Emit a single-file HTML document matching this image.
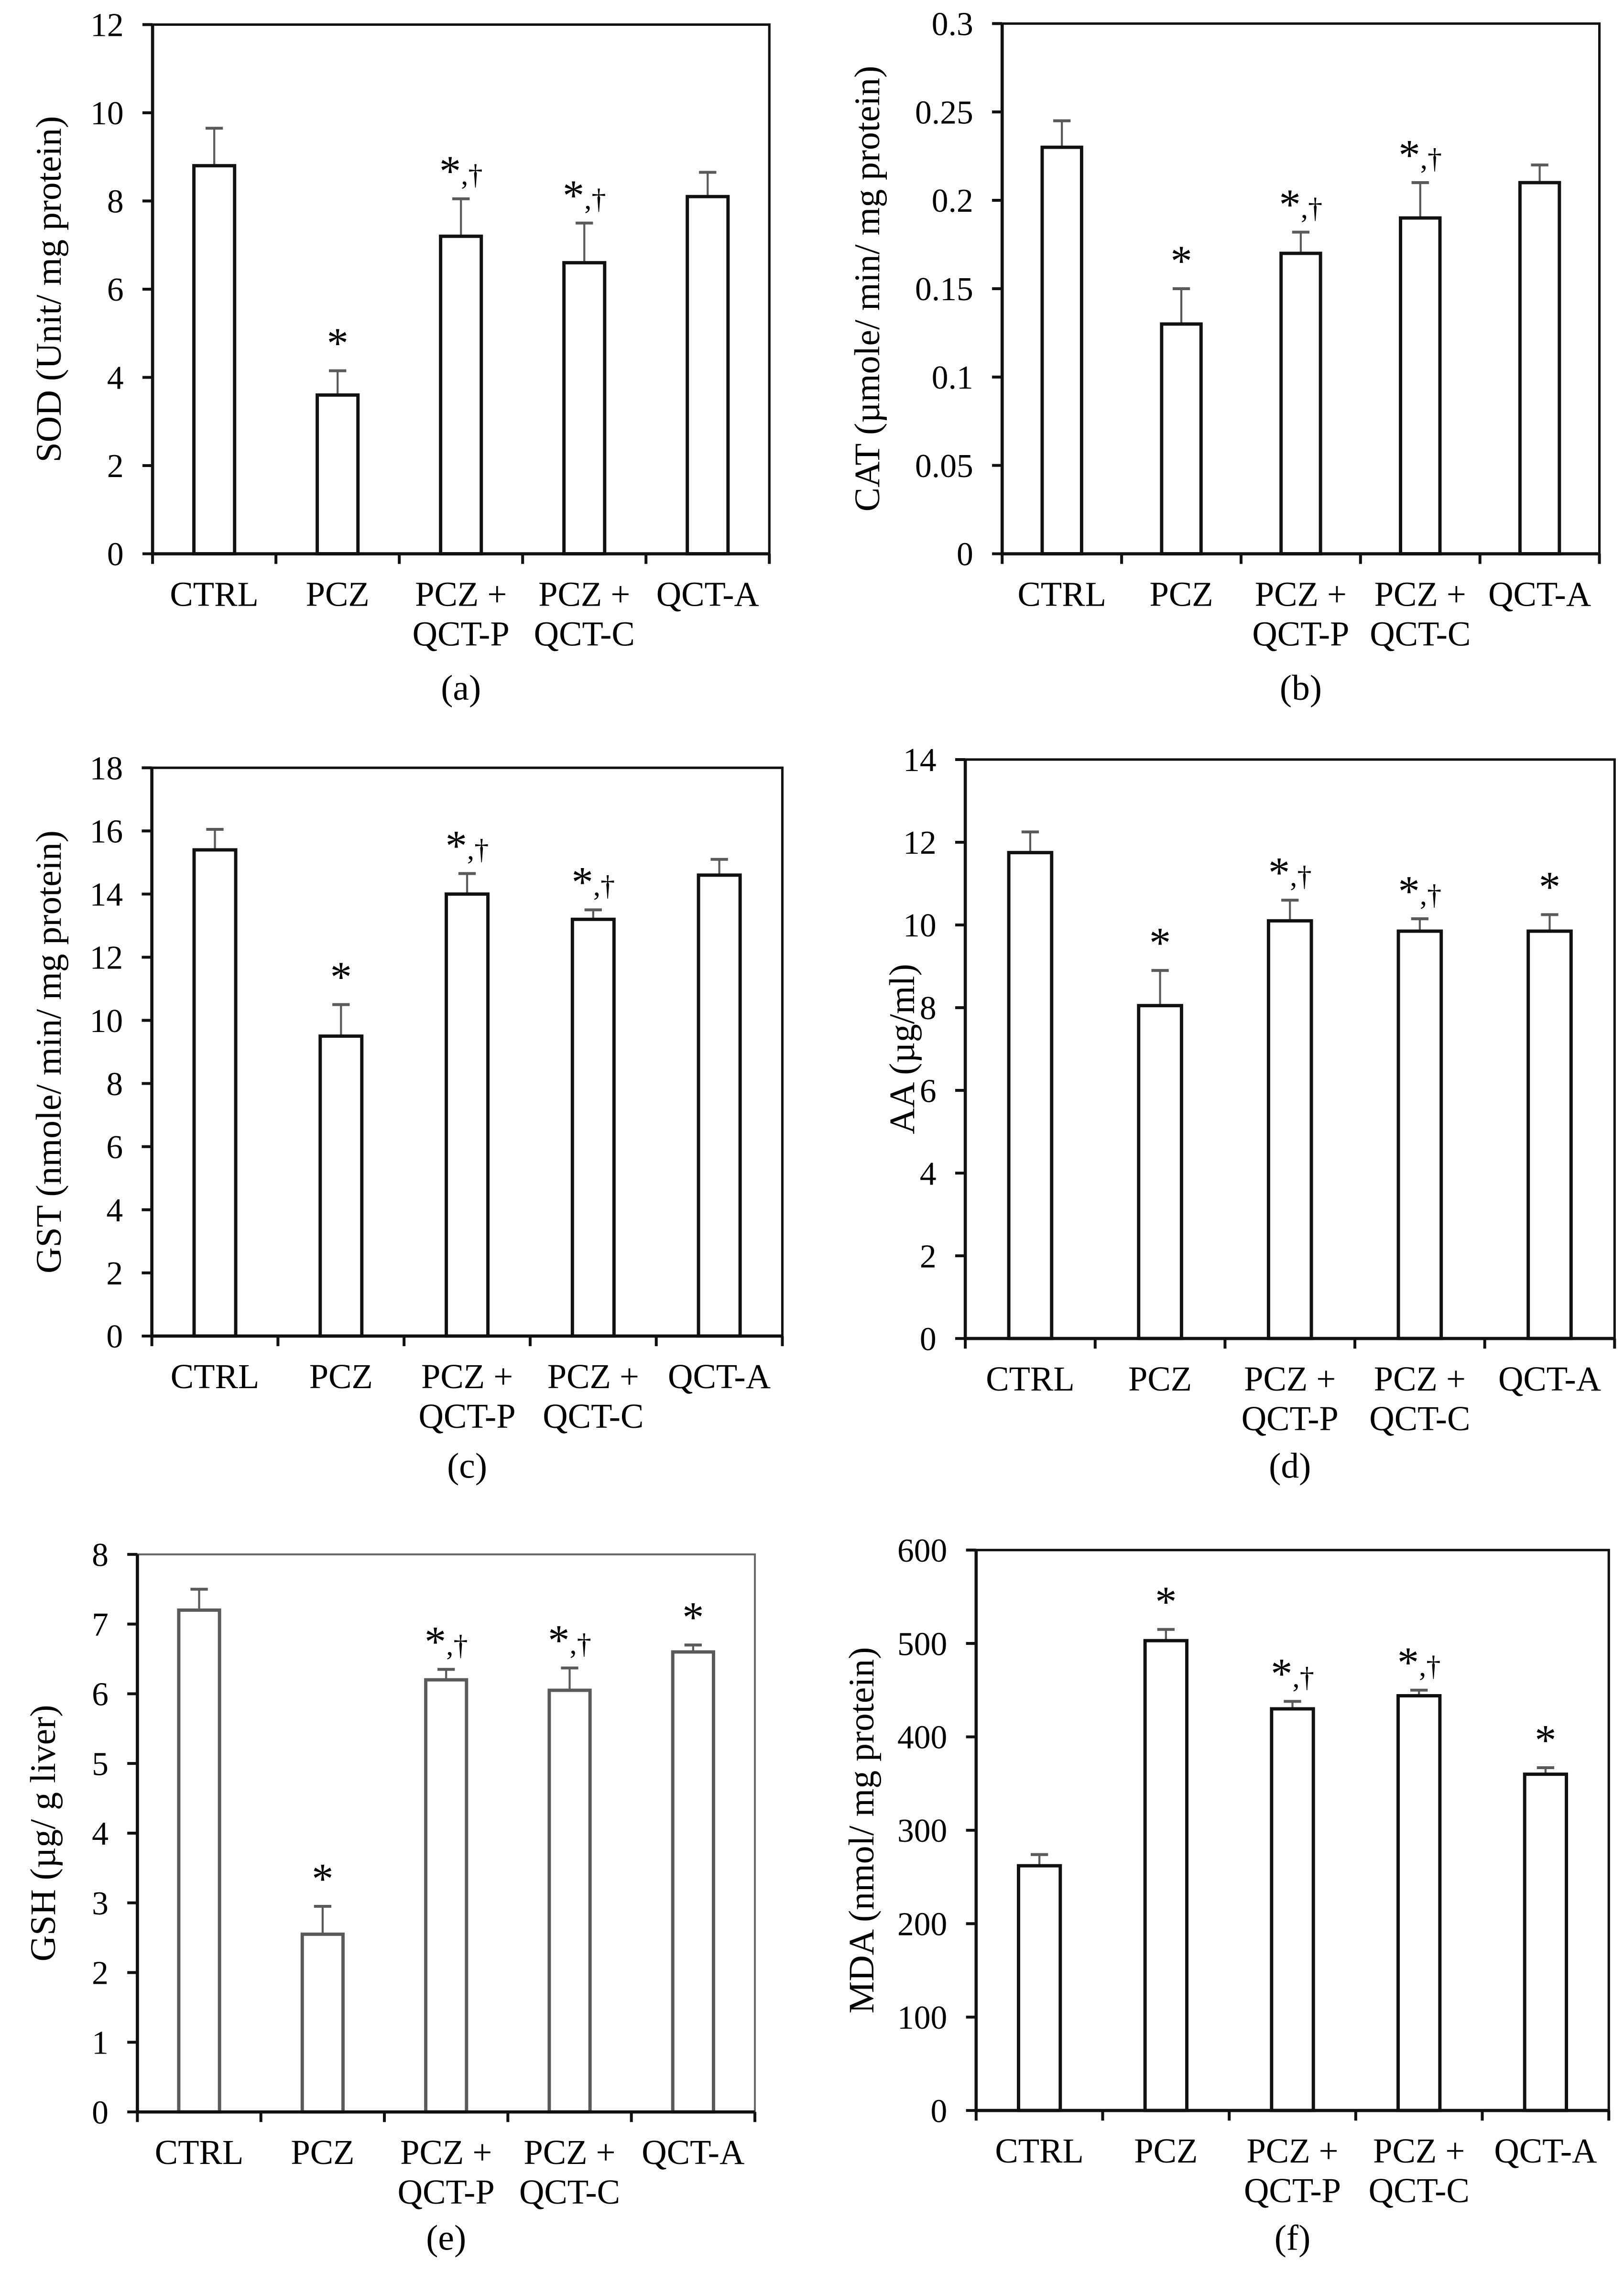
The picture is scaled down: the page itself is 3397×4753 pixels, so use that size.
<!DOCTYPE html>
<html><head><meta charset="utf-8"><style>
html,body{margin:0;padding:0;background:#fff}
svg{display:block}
text{font-family:"Liberation Serif",serif;fill:#000}
</style></head><body>
<svg id="fig" width="3397" height="4753" viewBox="0 0 1123 1571.3" xmlns="http://www.w3.org/2000/svg"></svg>
<script>
const categories = [["CTRL"],["PCZ"],["PCZ +","QCT-P"],["PCZ +","QCT-C"],["QCT-A"]];
const sodValues = [8.8, 3.6, 7.2, 6.6, 8.1];
const sodErrors = [0.85, 0.55, 0.85, 0.9, 0.55];
const catValues = [0.23, 0.13, 0.17, 0.19, 0.21];
const catErrors = [0.015, 0.02, 0.012, 0.02, 0.01];
const gstValues = [15.4, 9.5, 14.0, 13.2, 14.6];
const gstErrors = [0.65, 1.0, 0.65, 0.3, 0.5];
const aaValues = [11.75, 8.05, 10.1, 9.85, 9.85];
const aaErrors = [0.5, 0.85, 0.5, 0.3, 0.4];
const gshValues = [7.2, 2.55, 6.2, 6.05, 6.6];
const gshErrors = [0.3, 0.4, 0.15, 0.32, 0.1];
const mdaValues = [262, 503, 430, 444, 360];
const mdaErrors = [12, 12, 8, 6, 7];
const sodTicks = ["0","2","4","6","8","10","12"];
const catTicks = ["0","0.05","0.1","0.15","0.2","0.25","0.3"];
const gstTicks = ["0","2","4","6","8","10","12","14","16","18"];
const aaTicks = ["0","2","4","6","8","10","12","14"];
const gshTicks = ["0","1","2","3","4","5","6","7","8"];
const mdaTicks = ["0","100","200","300","400","500","600"];
const annotA = ["","*","*,†","*,†",""];
const annotB = ["","*","*,†","*,†",""];
const annotC = ["","*","*,†","*,†",""];
const annotD = ["","*","*,†","*,†","*"];
const annotE = ["","*","*,†","*,†","*"];
const annotF = ["","*","*,†","*,†","*"];

const NS="http://www.w3.org/2000/svg";
const svg=document.getElementById('fig');
function mk(tag,attrs,parent){const e=document.createElementNS(NS,tag);for(const k in attrs)e.setAttribute(k,attrs[k]);(parent||svg).appendChild(e);return e;}

function panel(id,box,vals,errs,ticks,annot,ylabel,ylx,capY,cap,gray){
  const g=mk('g',{});
  
  
  const L=box[0],T=box[1],R=box[2],B=box[3];
  const ymax=parseFloat(ticks[ticks.length-1]);
  const y=v=>B-(v/ymax)*(B-T);
  const cw=(R-L)/vals.length;
  const x=i=>L+cw*(i+0.5);
  const col=gray?'#5a5a5a':'#111';
  const fr=mk('path',{d:`M${L} ${T}H${R}V${B}`,fill:'none',stroke:gray?'#666':'#111','stroke-width':gray?1.3:1.7},g);
  
  
  vals.forEach((v,i)=>{
    const bw=cw*0.33;
    const eb=mk('line',{x1:x(i),x2:x(i),y1:y(v),y2:y(v+errs[i]),stroke:'#5a5a5a','stroke-width':1.4},g);
    
    
    const cap2=mk('line',{x1:x(i)-6,x2:x(i)+6,y1:y(v+errs[i]),y2:y(v+errs[i]),stroke:'#5a5a5a','stroke-width':2},g);
    
    
    const r=mk('rect',{x:x(i)-bw/2,y:y(v),width:bw,height:B-y(v),fill:'#fff',stroke:col,'stroke-width':2.3},g);
    
    
    if(annot[i]){
      const t=mk('text',{x:x(i),y:y(v+errs[i])-9,'text-anchor':'middle'},g);
      const s1=mk('tspan',{'font-size':30},t); s1.textContent='*';
      if(annot[i].length>1){const s2=mk('tspan',{'font-size':20,dy:-1},t); s2.textContent=annot[i].slice(1);}
      
      
    }
  });
  const ax=mk('path',{d:`M${L} ${T}V${B}H${R}`,fill:'none',stroke:'#111','stroke-width':2.2},g);
  
  
  ticks.forEach(tk=>{
    const yy=y(parseFloat(tk));
    const tl=mk('line',{x1:L-7,x2:L,y1:yy,y2:yy,stroke:'#111','stroke-width':2},g);
    
    
    const tt=mk('text',{x:L-20,y:yy+8,'font-size':23,'text-anchor':'end'},g);
    tt.textContent=tk;
    
    
  });
  for(let i=0;i<=vals.length;i++){
    const xt=mk('line',{x1:L+cw*i,x2:L+cw*i,y1:B,y2:B+7,stroke:'#111','stroke-width':2},g);
    
    
  }
  categories.forEach((c,i)=>{
    c.forEach((line,j)=>{
      const t=mk('text',{x:x(i),y:B+36+j*27.5,'font-size':24,'text-anchor':'middle'},g);
      t.textContent=line;
      
      
    });
  });
  const yl=mk('text',{x:0,y:0,'font-size':25,'text-anchor':'middle',transform:`translate(${ylx},${(T+B)/2}) rotate(-90)`},g);
  yl.textContent=ylabel;
  
  
  const cp=mk('text',{x:(L+R)/2,y:capY,'font-size':25,'text-anchor':'middle'},g);
  cp.textContent=cap;
  
  
}
panel('a',[105.5,17,532,383],sodValues,sodErrors,sodTicks,annotA,'SOD (Unit/ mg protein)',42,484,'(a)',false);
panel('b',[693,16.3,1106,383],catValues,catErrors,catTicks,annotB,'CAT (µmole/ min/ mg protein)',608,484,'(b)',false);
panel('c',[105,531,541,924],gstValues,gstErrors,gstTicks,annotC,'GST (nmole/ min/ mg protein)',42,1022,'(c)',false);
panel('d',[667.5,525.3,1116.5,925.7],aaValues,aaErrors,aaTicks,annotD,'AA (µg/ml)',632,1022,'(d)',false);
panel('e',[95,1075,522,1460.6],gshValues,gshErrors,gshTicks,annotE,'GSH (µg/ g liver)',38,1556,'(e)',true);
panel('f',[675,1072,1112.5,1459.6],mdaValues,mdaErrors,mdaTicks,annotF,'MDA (nmol/ mg protein)',604,1556,'(f)',false);
</script>
</body></html>
